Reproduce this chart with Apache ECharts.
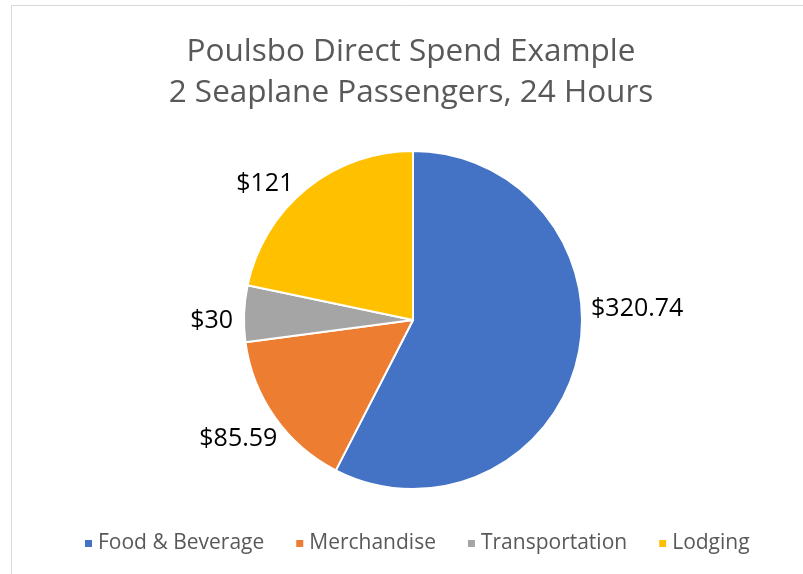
<!DOCTYPE html>
<html><head><meta charset="utf-8">
<script src="https://cdn.jsdelivr.net/npm/echarts@6/dist/echarts.min.js"></script>
<style>html,body{margin:0;padding:0;background:#fff}#c{width:803px;height:574px}</style>
</head><body><div id="c"></div>
<script>
const categories = ['Food & Beverage', 'Merchandise', 'Transportation', 'Lodging'];
const values = [320.74, 85.59, 30, 121];
const labels = ['$320.74', '$85.59', '$30', '$121'];
const colors = ['#4472C4', '#ED7D31', '#A5A5A5', '#FFC000'];
const titleLines = ['Poulsbo Direct Spend Example', '2 Seaplane Passengers, 24 Hours'];
// small nudges of label placement (Excel "best fit")
const labelNudge = [[-3, -53], [18, 17], [6, 8], [1, 1]];

const FONT = 'Open Sans';
const chart = echarts.init(document.getElementById('c'));
chart.setOption({
  animation: false,
  color: colors,
  graphic: [{
    type: 'polyline', shape: { points: [[11.5, 574], [11.5, 5.5], [803, 5.5]] },
    style: { stroke: '#d9d9d9', lineWidth: 1, fill: null }
  }],
  title: {
    text: titleLines.join('\n'),
    left: 406, top: 27, textAlign: 'center',
    textStyle: { fontFamily: FONT, fontSize: 31.5, fontWeight: 'normal', color: '#595959', lineHeight: 41 }
  },
  legend: {
    bottom: 15, left: 78, itemWidth: 9, itemHeight: 9, itemGap: 30, icon: 'rect',
    textStyle: { fontFamily: FONT, fontSize: 21, color: '#595959' },
    data: categories
  },
  series: [{
    type: 'pie', center: [413, 320], radius: 169, startAngle: 90, clockwise: true,
    itemStyle: { borderColor: '#fff', borderWidth: 2 },
    label: { show: true, position: 'outside', fontFamily: FONT, fontSize: 25, color: '#000',
      formatter: p => labels[p.dataIndex] },
    labelLine: { show: false, length: 8, length2: 4 },
    labelLayout: p => ({ dx: labelNudge[p.dataIndex][0], dy: labelNudge[p.dataIndex][1] }),
    data: categories.map((n, i) => ({ name: n, value: values[i] }))
  }]
});
</script></body></html>
